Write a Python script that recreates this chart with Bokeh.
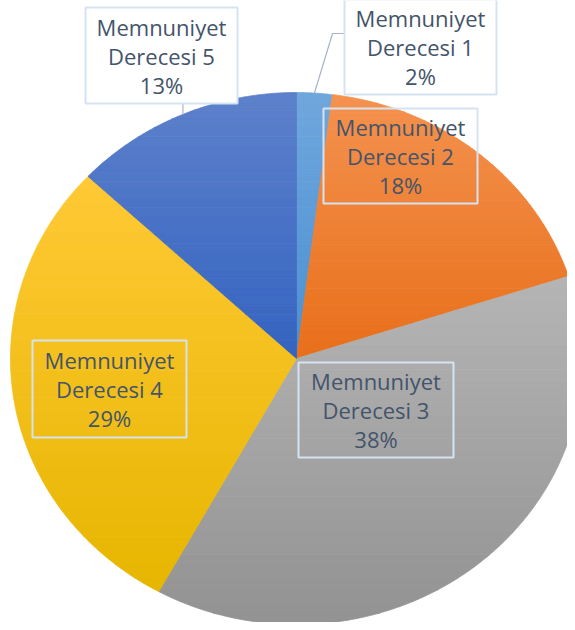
import numpy as np
from bokeh.plotting import figure
from bokeh.models import Range1d, ColumnDataSource
from bokeh.core.properties import value
from bokeh.embed import file_html
from bokeh.resources import INLINE

# ---- data ----
categories = ["Memnuniyet Derecesi 1", "Memnuniyet Derecesi 2", "Memnuniyet Derecesi 3",
              "Memnuniyet Derecesi 4", "Memnuniyet Derecesi 5"]
percent_values = [2, 18, 38, 29, 13]

# ---- styles ----
top_colors = ["#70A7DD", "#F4924F", "#B5B5B5", "#FFC935", "#5D81CB"]
bottom_colors = ["#4A8FD2", "#E86F1A", "#929292", "#E6B600", "#3463C0"]
text_color = "#44546A"
box_line = "#D5E3F1"
leader_color = "#A9B4C2"

# ---- layout (pixel-like data space, y pointing down) ----
CX, CY, RX, RY = 296.0, 358.0, 286.0, 266.0
# label box centres / sizes
box_cx = [420, 400, 375.5, 109, 161]
box_cy = [46.5, 155.5, 409.5, 388.5, 55]
box_w = [152, 154, 155, 154, 152]
box_h = [95, 95, 95, 97, 96]
box_fill = ["white", None, None, None, "white"]
line_offsets = [-29, 0, 29]

W, H = 567, 622
p = figure(width=W, height=H, output_backend="svg", toolbar_location=None,
           x_range=Range1d(0, W), y_range=Range1d(H, 0), min_border=0)
p.axis.visible = False
p.grid.visible = False
p.outline_line_color = None
p.background_fill_color = "white"
p.border_fill_color = "white"


def hex2rgb(h):
    h = h.lstrip("#")
    return np.array([int(h[i:i + 2], 16) for i in (0, 2, 4)], dtype=float)


def rgb2hex(c):
    return "#%02x%02x%02x" % tuple(int(round(v)) for v in c)


def clip(poly, yv, keep_above):
    out = []
    n = len(poly)
    for i in range(n):
        P, Q = poly[i], poly[(i + 1) % n]
        inP = (P[1] >= yv) if keep_above else (P[1] <= yv)
        inQ = (Q[1] >= yv) if keep_above else (Q[1] <= yv)
        if inP:
            out.append(P)
        if inP != inQ:
            t = (yv - P[1]) / (Q[1] - P[1])
            out.append((P[0] + t * (Q[0] - P[0]), yv))
    return out


total = float(sum(percent_values))
fracs = np.array(percent_values) / total
ends = np.cumsum(fracs) * 2 * np.pi
starts = ends - fracs * 2 * np.pi

xs_all, ys_all, cols_all = [], [], []
for k in range(len(percent_values)):
    th = np.linspace(starts[k], ends[k], 200)
    pts = [(CX, CY)] + [(CX + RX * np.sin(t), CY - RY * np.cos(t)) for t in th]
    ys = [q[1] for q in pts]
    y0, y1 = min(ys), max(ys)
    nb = 30
    edges = np.linspace(y0, y1, nb + 1)
    c0, c1 = hex2rgb(top_colors[k]), hex2rgb(bottom_colors[k])
    for b in range(nb):
        band = clip(pts, edges[b], True)
        if len(band) < 3:
            continue
        band = clip(band, edges[b + 1], False)
        if len(band) < 3:
            continue
        f = (b + 0.5) / nb
        xs_all.append([q[0] for q in band])
        ys_all.append([q[1] for q in band])
        cols_all.append(rgb2hex(c0 + (c1 - c0) * f))

p.patches(xs=xs_all, ys=ys_all, fill_color=cols_all, line_color=cols_all, line_width=0.8)

# leader lines (from slice mid-angle on the rim)
mids = (starts + ends) / 2
ex = CX + RX * np.sin(mids)
ey = CY - RY * np.cos(mids)
# label 1: rim -> elbow -> box left
l1_left = box_cx[0] - box_w[0] / 2
p.line([ex[0], l1_left - 12, l1_left], [ey[0], 33, 33], line_color=leader_color, line_width=1.2)
# label 5: rim -> box bottom
p.line([ex[4], ex[4]], [ey[4], box_cy[4] + box_h[4] / 2], line_color=leader_color, line_width=1.2)

# label boxes
for k in range(5):
    if box_fill[k]:
        p.rect(x=box_cx[k], y=box_cy[k], width=box_w[k], height=box_h[k],
               fill_color=box_fill[k], line_color=box_line, line_width=2)
    else:
        p.rect(x=box_cx[k], y=box_cy[k], width=box_w[k], height=box_h[k],
               fill_alpha=0, line_color=box_line, line_width=2)

lx, ly, lt = [], [], []
for k in range(5):
    name_parts = categories[k].split(" ", 1)
    lines = [name_parts[0], name_parts[1], "%d%%" % percent_values[k]]
    for j, s in enumerate(lines):
        lx.append(box_cx[k])
        ly.append(box_cy[k] + line_offsets[j])
        lt.append(s)
src = ColumnDataSource(dict(x=lx, y=ly, t=lt))
p.text(x="x", y="y", text="t", source=src, text_align="center", text_baseline="alphabetic",
       text_font=value("Open Sans"), text_font_size="22px", text_color=text_color)

open("out.html", "w").write(file_html(p, INLINE))
